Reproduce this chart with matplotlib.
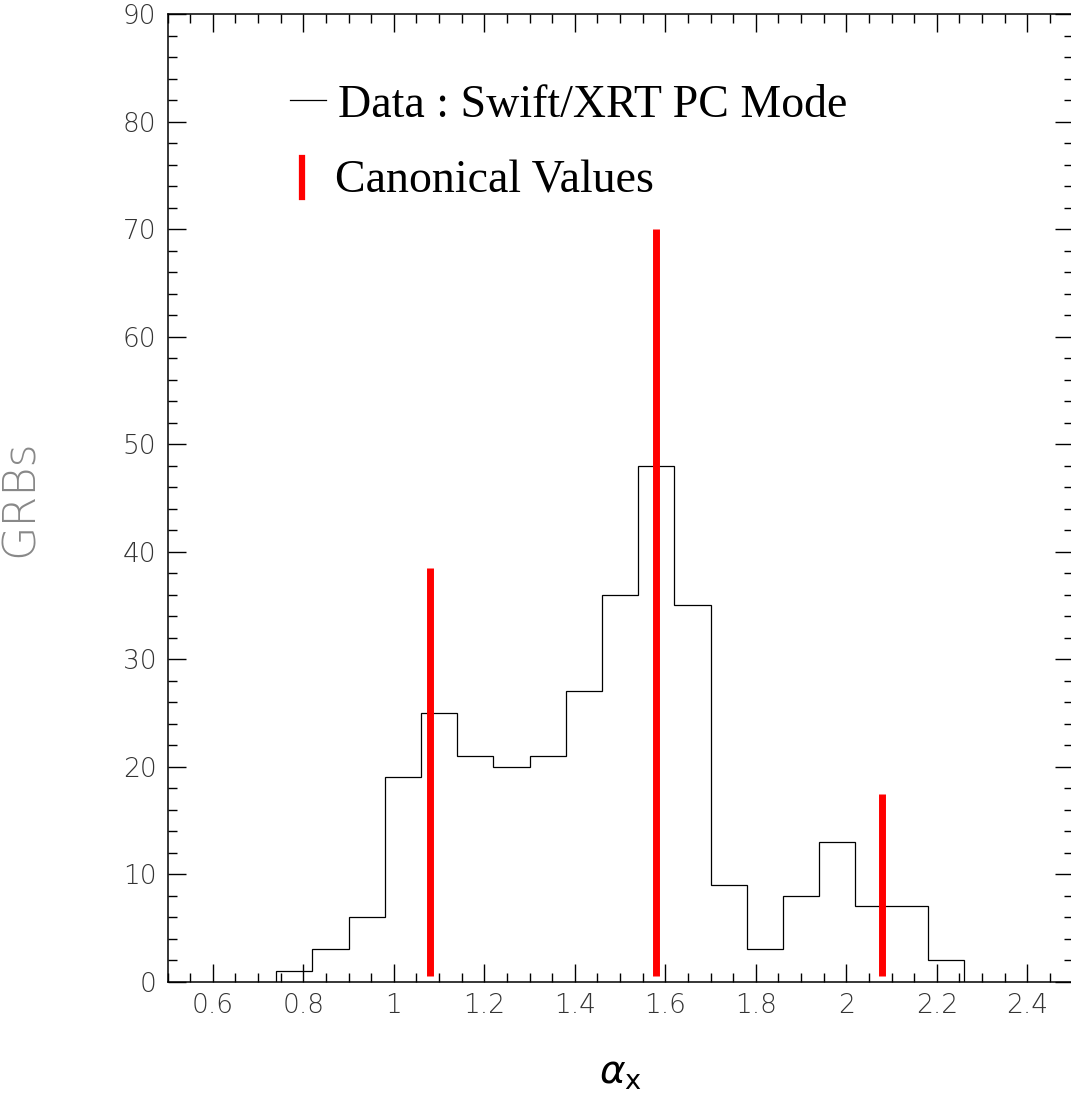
import numpy as np
import matplotlib.pyplot as plt
from matplotlib.ticker import MultipleLocator

# histogram of the decay index alpha_x (Swift/XRT PC mode)
bin_edges = [0.74 + 0.08 * i for i in range(20)]
counts = [1, 3, 6, 19, 25, 21, 20, 21, 27, 36, 48, 35, 9, 3, 8, 13, 7, 7, 2]

# canonical values (red bars)
canon_x = [1.08, 1.58, 2.08]
canon_top = [38.5, 70, 17.5]
canon_bottom = 0.5

fig = plt.figure(figsize=(10.71, 11.04), dpi=100)
ax = fig.add_axes([167.5 / 1071, (1104 - 981.7) / 1104,
                   (1072.5 - 167.5) / 1071, (981.7 - 14.3) / 1104])

ax.stairs(counts, bin_edges, color='black', linewidth=0.9)
ax.vlines(canon_x, canon_bottom, canon_top, color='red', linewidth=5)

ax.set_xlim(0.5, 2.5)
ax.set_ylim(0, 90)
ax.xaxis.set_minor_locator(MultipleLocator(0.05))
ax.yaxis.set_major_locator(MultipleLocator(10))
ax.yaxis.set_minor_locator(MultipleLocator(2))
ax.set_xticks(np.arange(0.6, 2.41, 0.2))
ax.set_xticklabels(['0.6', '0.8', '1', '1.2', '1.4', '1.6', '1.8', '2', '2.2', '2.4'])

ax.tick_params(which='both', direction='in', top=True, right=True, width=1)
ax.tick_params(which='major', length=13, labelsize=19, labelcolor='#333333', pad=8)
ax.tick_params(which='minor', length=6.5)
for lab in ax.get_xticklabels() + ax.get_yticklabels():
    lab.set_fontweight('light')
for s in ax.spines.values():
    s.set_linewidth(1.1)

# legend drawn by hand
ax.plot([0.1356, 0.1754], [0.911, 0.911], transform=ax.transAxes, color='black', lw=0.9)
ax.text(0.1887, 0.8938, 'Data : Swift/XRT PC Mode', transform=ax.transAxes,
        family='Liberation Serif', fontsize=33, va='baseline')
ax.plot([0.1488, 0.1488], [0.811, 0.851], transform=ax.transAxes, color='red', lw=4.5)
ax.text(0.1854, 0.8153, 'Canonical Values', transform=ax.transAxes,
        family='Liberation Serif', fontsize=33, va='baseline')

ax.set_xlabel(r'$\alpha_{\mathsf{x}}$', fontsize=28, labelpad=26)
ax.set_ylabel('GRBs', fontsize=32, color='#888888', fontweight='light', labelpad=58)

fig.savefig('out.png', dpi=100)
